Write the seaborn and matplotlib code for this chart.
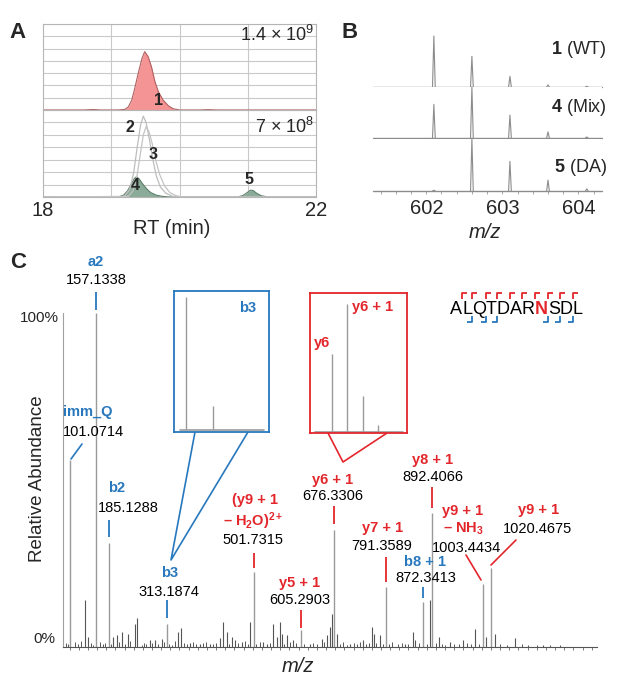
import matplotlib
matplotlib.use('Agg')
import matplotlib.pyplot as plt
from matplotlib.lines import Line2D
import numpy as np
import seaborn as sns

# ---------------- DATA ----------------
# Panel A: extracted ion chromatograms (intensity in 1e8 counts)
rt_wt = [18.0, 18.6, 18.73, 18.85, 19.1, 19.20, 19.25, 19.30, 19.35, 19.40, 19.45, 19.49,
         19.54, 19.59, 19.64, 19.69, 19.76, 19.84, 19.91, 20.0, 20.3, 20.42, 20.55, 22.0]
int_wt = [0, 0, 0.08, 0, 0, 0.1, 0.5, 1.6, 3.8, 6.2, 8.4, 9.5,
          8.7, 7.0, 4.6, 3.0, 1.6, 0.65, 0.2, 0, 0, 0.06, 0, 0]

rt_p2 = [18.0, 19.15, 19.20, 19.27, 19.33, 19.38, 19.43, 19.47, 19.51, 19.56, 19.61,
         19.66, 19.72, 19.80, 19.90, 20.0, 22.0]
int_p2 = [0, 0, 0.1, 0.6, 2.0, 4.0, 5.8, 6.5, 6.0, 4.6, 3.0, 1.7, 0.8, 0.3, 0.05, 0, 0]

rt_p3 = [18.0, 19.25, 19.32, 19.38, 19.43, 19.47, 19.51, 19.55, 19.60, 19.65, 19.71,
         19.78, 19.86, 19.95, 20.05, 22.0]
int_p3 = [0, 0.05, 0.5, 1.8, 3.6, 5.0, 5.65, 5.3, 4.3, 3.0, 1.8, 0.9, 0.35, 0.1, 0, 0]

rt_da = [18.0, 19.10, 19.18, 19.24, 19.30, 19.34, 19.37, 19.41, 19.46, 19.52, 19.58,
         19.66, 19.75, 19.85, 20.85, 20.93, 20.99, 21.04, 21.08, 21.13, 21.20, 21.30, 22.0]
int_da = [0, 0, 0.15, 0.5, 1.1, 1.5, 1.63, 1.45, 1.05, 0.65, 0.35,
          0.15, 0.05, 0, 0, 0.12, 0.35, 0.55, 0.52, 0.3, 0.1, 0, 0]

peak_tags = ['1', '2', '3', '4', '5']
tag_rt = [19.69, 19.27, 19.61, 19.35, 21.02]
tag_int = [1.5, 5.6, 3.4, 0.9, 1.37]
tag_panel = [0, 1, 1, 1, 1]

# Panel B: isotope envelopes (relative intensity)
b_mz = [602.10, 602.60, 603.10, 603.60, 604.11]
b_wt = [1.0, 0.6, 0.21, 0.04, 0.015]
b_mix = [0.66, 1.0, 0.45, 0.12, 0.02]
b_da = [0.015, 1.0, 0.57, 0.21, 0.04]
b_tags = ['1', '4', '5']
b_names = ['(WT)', '(Mix)', '(DA)']

# Panel C: MS/MS spectrum (relative abundance, %)
ion_mz = [101.0714, 157.1338, 185.1288, 313.1874, 501.7315, 605.2903, 676.3306,
          791.3589, 872.3413, 892.4066, 1003.4434, 1020.4675]
ion_int = [56, 100, 31, 7, 22.5, 5, 35, 18, 13.5, 40, 19, 23.7]

minor_mz = [133.8, 140.3, 194.9, 203.6, 214.5, 227.6, 242.9, 247.3, 275.7, 286.6,
            301.9, 336.8, 343.4, 363.0, 384.8, 406.7, 428.5, 435.1, 443.8, 454.7,
            461.3, 476.5, 494.0, 522.4, 531.1, 544.2, 553.0, 559.5, 563.9, 574.8,
            587.9, 625.0, 651.2, 662.1, 668.7, 673.0, 684.0, 712.4, 740.7, 760.4,
            764.8, 777.9, 832.4, 849.9, 854.3, 887.0, 906.7, 930.7, 959.1, 985.3,
            1009.3, 1028.9, 1072.6, 1133.8]
minor_int = [14, 3, 3, 3.6, 4.5, 4, 7, 8.7, 2, 2,
             2.5, 4.5, 5.7, 1.2, 1, 1, 2.7, 7.5, 4.5, 3,
             2, 1.5, 7.5, 1.5, 1, 7, 3, 7.5, 4, 3.5,
             2, 1, 2.5, 3.5, 6, 10, 4, 1, 2, 6,
             4, 3.5, 1, 4.5, 2, 14, 3, 1.5, 2, 5.4,
             3, 4, 2.7, 0.5]

noise_mz = [92, 97, 112, 118, 124, 147, 152, 166, 172, 178, 190, 209, 220, 233, 258,
            262, 268, 281, 294, 307, 318, 324, 330, 350, 356, 370, 377, 392, 398, 414,
            420, 449, 468, 483, 489, 508, 515, 538, 569, 581, 595, 612, 632, 640, 656,
            690, 697, 705, 720, 727, 734, 747, 753, 770, 784, 797, 805, 818, 826, 840,
            862, 880, 899, 913, 920, 940, 950, 968, 977, 994, 1040, 1055, 1087, 1100,
            1120, 1150, 1170]
noise_int = [1.2, 0.8, 1.5, 0.9, 1.8, 1.1, 0.7, 1.4, 0.9, 1.3,
             0.8, 1.6, 1.0, 1.9, 0.7, 1.3, 0.9, 1.2, 0.8, 1.5,
             1.0, 0.7, 1.8, 1.1, 0.9, 1.4, 0.8, 1.2, 1.6, 0.9,
             1.3, 0.8, 1.1, 1.7, 0.9, 1.0, 1.4, 1.2, 0.8, 1.5,
             1.1, 0.9, 1.3, 0.8, 1.6, 1.0, 1.4, 0.7, 1.2, 0.9,
             1.5, 0.8, 1.1, 1.3, 0.9, 1.0, 1.6, 0.8, 1.2, 0.9,
             1.1, 0.8, 1.3, 0.9, 0.7, 1.0, 0.8, 1.2, 0.9, 0.8,
             0.9, 0.7, 0.8, 0.6, 0.7, 0.6, 0.5]

# zoomed insets
b3_mz = [313.19, 314.19]
b3_int = [100, 18]
y6_mz = [675.33, 676.33, 677.33, 678.33]
y6_int = [61, 100, 28, 5.5]

seq = 'ALQTDARNSDL'
b_breaks = [2, 3, 4, 8, 9, 10]

# ---------------- STYLE ----------------
sns.set_style('white')
plt.rcParams['font.family'] = ['Liberation Sans', 'DejaVu Sans']
plt.rcParams['mathtext.fontset'] = 'custom'
plt.rcParams['mathtext.rm'] = 'Liberation Sans'
plt.rcParams['mathtext.bf'] = 'Liberation Sans:bold'
plt.rcParams['mathtext.it'] = 'Liberation Sans:italic'

blue = '#2878be'
red = '#e3262b'
W, H = 624, 689
fig = plt.figure(figsize=(W / 100, H / 100), dpi=100)


def box(l, t, r, b):
    return [l / W, 1 - b / H, (r - l) / W, (b - t) / H]


def fxy(x, y):
    return x / W, 1 - y / H


def fig_line(xs, ys, color, lw=1.2):
    fig.add_artist(Line2D([x / W for x in xs], [1 - y / H for y in ys],
                          color=color, lw=lw, solid_capstyle='butt'))


# ---------------- PANEL A ----------------
grid_c = '#c9c9c9'
axA1 = fig.add_axes(box(43, 24, 316, 110))
axA2 = fig.add_axes(box(43, 110, 316, 197))
for ax, top in ((axA1, 14), (axA2, 7)):
    ax.set_xlim(18, 22)
    ax.set_ylim(0, top)
    ax.set_yticks(np.linspace(0, top, 8))
    ax.set_xticks([18, 22])
    ax.set_xticks([19, 20, 21], minor=True)
    ax.grid(axis='y', which='major', color=grid_c, lw=0.8)
    ax.grid(axis='x', which='minor', color=grid_c, lw=0.8)
    ax.tick_params(which='both', length=0, labelleft=False, labelbottom=False)
    for sp in ax.spines.values():
        sp.set_color('#b5b5b5')
        sp.set_linewidth(0.8)

axA1.fill_between(rt_wt, int_wt, color='#f59494', lw=0)
sns.lineplot(x=rt_wt, y=int_wt, ax=axA1, color='#b06060', lw=0.8)
axA2.fill_between(rt_da, int_da, color='#8aab98', lw=0)
sns.lineplot(x=rt_da, y=int_da, ax=axA2, color='#5f7f6c', lw=0.8)
sns.lineplot(x=rt_p2, y=int_p2, ax=axA2, color='#bdbdbd', lw=0.9)
sns.lineplot(x=rt_p3, y=int_p3, ax=axA2, color='#c4c4c4', lw=0.9)

for tag, rt, y, p in zip(peak_tags, tag_rt, tag_int, tag_panel):
    ax = axA1 if p == 0 else axA2
    ax.text(rt, y, tag, fontsize=11.5, fontweight='bold', ha='center', va='center')

axA1.text(0.995, 0.87, r'1.4 × 10$^{9}$', transform=axA1.transAxes,
          ha='right', va='center', fontsize=13)
axA2.text(0.995, 0.80, r'7 × 10$^{8}$', transform=axA2.transAxes,
          ha='right', va='center', fontsize=13)
axA2.tick_params(labelbottom=True, labelsize=14.5, pad=3)
axA2.set_xticklabels(['18', '22'])
fig.text(*fxy(172, 228), 'RT (min)', fontsize=14.5, ha='center', va='center')

# ---------------- PANEL B ----------------
rowsB = [(36, 87), (87, 138), (139, 191)]
row_vals = [b_wt, b_mix, b_da]
lab_y = [50, 108, 167]
for i, ((t, b), vals) in enumerate(zip(rowsB, row_vals)):
    ax = fig.add_axes(box(373, t, 602, b))
    ax.set_xlim(601.30, 604.31)
    ax.set_ylim(0, 1)
    ax.axhline(0, color='#8c8c8c', lw=1.0, clip_on=False)
    for mz, h in zip(b_mz, vals):
        ax.plot([mz - 0.018, mz, mz + 0.018], [0, h, 0], color='#8c8c8c', lw=0.8, clip_on=False)
    sns.despine(ax=ax, left=True, bottom=True)
    ax.set_yticks([])
    ax.text(1.022, (b - lab_y[i]) / (b - t), rf'$\mathbf{{{b_tags[i]}}}$ {b_names[i]}',
            transform=ax.transAxes, ha='right', va='center', fontsize=13)
    if i < 2:
        ax.set_xticks([])
    else:
        ax.set_xticks([602, 603, 604])
        ax.set_xticks(np.arange(601.4, 604.3, 0.2), minor=True)
        ax.tick_params(which='both', bottom=True, length=2, width=0.6, color='#999999',
                       labelsize=14.5, pad=4)
fig.text(*fxy(485, 232), 'm/z', style='italic', fontsize=14.5, ha='center', va='center')

# ---------------- PANEL C ----------------
C_LEFT, C_RIGHT, C_TOP, C_BOT = 63, 597, 250, 647
MZ0, MZ1, YTOP = 85.7, 1251.6, 118.9
axC = fig.add_axes(box(C_LEFT, C_TOP, C_RIGHT, C_BOT))
axC.set_xlim(MZ0, MZ1)
axC.set_ylim(0, YTOP)
axC.vlines(noise_mz, 0, noise_int, color='#555555', lw=0.7)
axC.vlines(minor_mz, 0, minor_int, color='#555555', lw=0.8)
axC.vlines(ion_mz, 0, ion_int, color='#9a9a9a', lw=1.0)
sns.despine(ax=axC)
axC.spines['left'].set_bounds(0, 100)
axC.spines['left'].set_color('#a0a0a0')
axC.spines['bottom'].set_color('#555555')
axC.spines['bottom'].set_linewidth(0.8)
axC.set_yticks([])
axC.set_xticks(np.arange(100, 1250, 20))
axC.tick_params(axis='x', bottom=True, length=2.5, width=0.6, color='#666666', labelbottom=False)

axC.text(-0.015, 2.4, '0%', transform=axC.get_yaxis_transform(), ha='right', va='center', fontsize=11)
axC.text(-0.008, 98.5, '100%', transform=axC.get_yaxis_transform(), ha='right', va='center', fontsize=11)
fig.text(*fxy(38, 479), 'Relative Abundance', rotation=90, fontsize=13.5, ha='center', va='center')
fig.text(*fxy(298, 667), 'm/z', style='italic', fontsize=14.5, ha='center', va='center')


def cx(px):
    return MZ0 + (px - C_LEFT) * (MZ1 - MZ0) / (C_RIGHT - C_LEFT)


def cy(py):
    return (C_BOT - py) * YTOP / (C_BOT - C_TOP)


def clabel(x, y, s, color='black', bold=False):
    axC.text(cx(x), cy(y), s, color=color, fontweight='bold' if bold else 'normal',
             fontsize=10.5, ha='center', va='center', clip_on=False)


def ctick(mz, y0, y1, color):
    axC.vlines(mz, cy(y0), cy(y1), color=color, lw=1.3)


def cline(x0, y0, x1, y1, color):
    axC.plot([cx(x0), cx(x1)], [cy(y0), cy(y1)], color=color, lw=1.2)


clabel(96, 262, 'a2', blue, True); clabel(96, 280, '157.1338'); ctick(ion_mz[1], 310, 292, blue)
clabel(88, 412, 'imm_Q', blue, True); clabel(93, 432, '101.0714'); cline(71, 459, 82, 444, blue)
clabel(117, 488, 'b2', blue, True); clabel(128, 508, '185.1288'); ctick(ion_mz[2], 537, 520, blue)
clabel(170, 573, 'b3', blue, True); clabel(169, 592, '313.1874'); ctick(ion_mz[3], 618, 600, blue)
clabel(255, 500, '(y9 + 1', red, True)
clabel(253, 521, r'– H$_\mathbf{2}$O)$^{\mathbf{2+}}$', red, True)
clabel(253, 540, '501.7315'); ctick(ion_mz[4], 568, 553, red)
clabel(300, 583, 'y5 + 1', red, True); clabel(300, 600, '605.2903'); ctick(ion_mz[5], 628, 610, red)
clabel(333, 480, 'y6 + 1', red, True); clabel(333, 496, '676.3306'); ctick(ion_mz[6], 524, 506, red)
clabel(383, 528, 'y7 + 1', red, True); clabel(382, 546, '791.3589'); ctick(ion_mz[7], 582, 557, red)
clabel(425, 562, 'b8 + 1', blue, True); clabel(426, 578, '872.3413'); ctick(ion_mz[8], 598, 587, blue)
clabel(433, 460, 'y8 + 1', red, True); clabel(433, 477, '892.4066'); ctick(ion_mz[9], 508, 487, red)
clabel(463, 511, 'y9 + 1', red, True); clabel(463, 529, r'– NH$_\mathbf{3}$', red, True)
clabel(467, 548, '1003.4434'); cline(466, 555, 481, 580, red)
clabel(539, 510, 'y9 + 1', red, True); clabel(537, 529, '1020.4675'); cline(516, 540, 491, 565, red)

# zoom insets
axb = fig.add_axes(box(174, 291, 269, 432))
axb.set_xlim(312.75, 316.26)
axb.set_ylim(-1.5, 104.5)
axb.vlines(b3_mz, 0, b3_int, color='#9a9a9a', lw=1.0)
axb.axhline(0, 0.06, 0.95, color='#9a9a9a', lw=1.2)
axb.text(0.78, 0.88, 'b3', color=blue, fontweight='bold', fontsize=10.5,
         transform=axb.transAxes, ha='center', va='center')

axr = fig.add_axes(box(310, 293, 407, 433))
axr.set_xlim(673.89, 680.23)
axr.set_ylim(-0.8, 108.6)
axr.vlines(y6_mz, 0, y6_int, color='#9a9a9a', lw=1.0)
axr.axhline(0, 0.05, 0.96, color='#9a9a9a', lw=1.2)
axr.text(0.124, 0.643, 'y6', color=red, fontweight='bold', fontsize=10.5,
         transform=axr.transAxes, ha='center', va='center')
axr.text(0.65, 0.9, 'y6 + 1', color=red, fontweight='bold', fontsize=10.5,
         transform=axr.transAxes, ha='center', va='center')

for ax, c in ((axb, blue), (axr, red)):
    ax.set_xticks([])
    ax.set_yticks([])
    for sp in ax.spines.values():
        sp.set_visible(True)
        sp.set_color(c)
        sp.set_linewidth(1.3)

fig_line([195, 171, 248], [432, 560, 432], blue)
fig_line([328, 343, 387], [433, 462, 433], red)

# peptide sequence with fragment brackets
renderer = fig.canvas.get_renderer()
x = 450.0
gaps = []
for i, ch in enumerate(seq):
    hit = (i == 7)
    t = fig.text(x / W, 1 - 309 / H, ch, fontsize=13, ha='left', va='center',
                 color=red if hit else 'black', fontweight='bold' if hit else 'normal')
    x += t.get_window_extent(renderer).width
    gaps.append(x)
for g in gaps[:-1]:
    fig_line([g, g, g + 5], [299, 292.5, 292.5], red, lw=1.3)
for k in b_breaks:
    g = gaps[k - 1]
    fig_line([g - 5, g, g], [322, 322, 316], blue, lw=1.3)

# panel letters
fig.text(*fxy(18, 32), 'A', fontsize=16, fontweight='bold', ha='center', va='center')
fig.text(*fxy(350, 32), 'B', fontsize=16, fontweight='bold', ha='center', va='center')
fig.text(*fxy(18, 263), 'C', fontsize=16, fontweight='bold', ha='center', va='center')

fig.savefig('out.png', dpi=100)
